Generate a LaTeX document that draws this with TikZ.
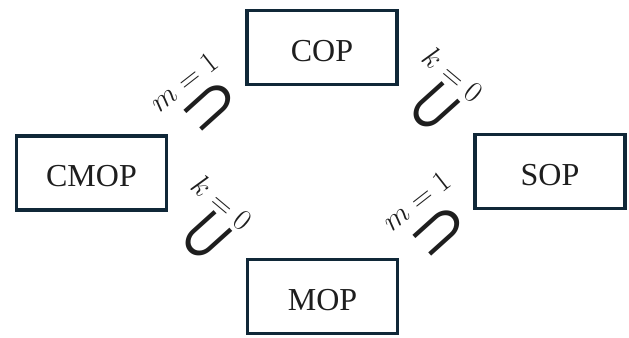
\RequirePackage{fix-cm}
\documentclass[tikz,border=0pt]{standalone}
\usepackage{fontspec}
\setmainfont{Liberation Serif}
\newfontfamily\symfont{DejaVu Sans}
\usetikzlibrary{calc}

\definecolor{boxline}{RGB}{16,40,56}
\definecolor{ink}{RGB}{30,30,30}

\begin{document}
\begin{tikzpicture}[x=1bp,y=1bp,
  probbox/.style={draw=boxline, line width=3.5bp, minimum width=150bp,
    minimum height=74bp, inner sep=0pt, text=ink, text height=28bp,
    font=\fontsize{32bp}{36bp}\selectfont},
  incl/.style={inner sep=0pt, text=ink, rotate=42, xscale=1.2,
    font=\symfont\fontsize{60bp}{60bp}\selectfont},
  cond/.style={inner sep=0pt, text=ink,
    font=\fontsize{30bp}{32bp}\selectfont}]
\useasboundingbox (0,0) rectangle (629,-337);

% problem classes
\node[probbox] (cop)  at (322,-47.5)  {COP};
\node[probbox] (cmop) at (91.5,-173)  {CMOP};
\node[probbox] (sop)  at (550,-171.5) {SOP};
\node[probbox] (mop)  at (322.5,-296.5) {MOP};

% inclusions between neighbouring classes
\node[incl] (incA) at ($(cmop.north east)!0.5!(cop.south west)+(5,3)$) {⊃};
\node[incl] (incB) at ($(cop.south east)!0.5!(sop.north west)$) {⊂};
\node[incl] (incC) at ($(cmop.south east)!0.5!(mop.north west)+(1,-3)$) {⊂};
\node[incl] (incD) at ($(mop.north east)!0.5!(sop.south west)+(5,2)$) {⊃};

% conditions
\node[cond, rotate=38]  (conA) at ($(incA)+(-28,25)$) {$m=1$};
\node[cond, rotate=-40] (conB) at ($(incB)+(17,35)$)  {$k=0$};
\node[cond, rotate=-40] (conC) at ($(incC)+(14,35)$)  {$k=0$};
\node[cond, rotate=38]  (conD) at ($(incD)+(-25,31)$) {$m=1$};
\end{tikzpicture}
\end{document}
